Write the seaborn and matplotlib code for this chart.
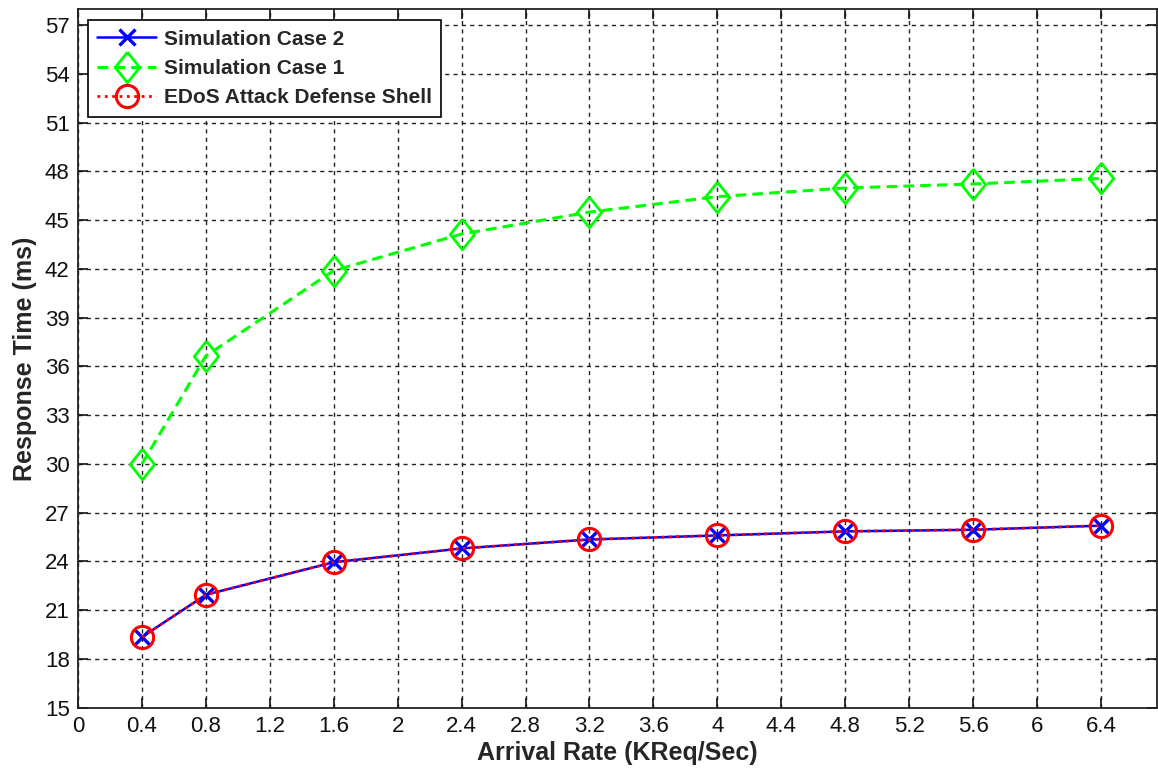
import numpy as np
import pandas as pd
import matplotlib
matplotlib.use("Agg")
import matplotlib.pyplot as plt
import seaborn as sns

# Arrival rate (KReq/Sec)
arrival_rate = [0.4, 0.8, 1.6, 2.4, 3.2, 4.0, 4.8, 5.6, 6.4]
# Response time (ms) per scheme
case2 = [19.35, 21.95, 23.95, 24.8, 25.35, 25.6, 25.85, 25.95, 26.2]
case1 = [30.0, 36.65, 41.9, 44.15, 45.5, 46.45, 46.98, 47.23, 47.57]
edos = [19.35, 21.95, 23.95, 24.8, 25.35, 25.6, 25.85, 25.95, 26.2]

series_names = ["Simulation Case 2", "Simulation Case 1", "EDoS Attack Defense Shell"]
x_ticks = [0, 0.4, 0.8, 1.2, 1.6, 2, 2.4, 2.8, 3.2, 3.6, 4, 4.4, 4.8, 5.2, 5.6, 6, 6.4]
y_ticks = list(range(15, 58, 3))

sns.set_theme(style="white")
plt.rcParams["font.family"] = ["Liberation Sans", "DejaVu Sans"]

fig = plt.figure(figsize=(11.58, 7.74), dpi=100)
ax = fig.add_axes([0.0674, 0.0857, 0.9316, 0.9027])

df = pd.DataFrame({
    "x": arrival_rate * 3,
    "y": case2 + case1 + edos,
    "series": sum([[n] * len(arrival_rate) for n in series_names], []),
})

diamond = [(0, 1), (0.8, 0), (0, -1), (-0.8, 0), (0, 1)]
styles = {
    series_names[0]: dict(color="#0000ff", linestyle="-", marker="x", markersize=12,
                          markeredgewidth=2.4, linewidth=1.8),
    series_names[1]: dict(color="#00ff00", linestyle=(0, (3.5, 2)), marker=diamond,
                          markersize=22, markeredgewidth=2.0, markerfacecolor="none",
                          linewidth=2.2),
    series_names[2]: dict(color="#ff0000", linestyle=":", marker="o", markersize=16,
                          markeredgewidth=2.2, markerfacecolor="none", linewidth=2.0),
}

for name in series_names:
    sub = df[df["series"] == name]
    st = styles[name]
    sns.lineplot(data=sub, x="x", y="y", ax=ax, label=name, **st)
    ax.lines[-1].set_markeredgecolor(st["color"])

ax.set_xlim(0, 6.75)
ax.set_ylim(15, 58)
ax.set_xticks(x_ticks)
ax.set_xticklabels([f"{t:g}" for t in x_ticks])
ax.set_yticks(y_ticks)

ax.grid(True, color="#222222", linestyle=(0, (3, 3)), linewidth=1.0)
ax.tick_params(direction="in", length=7, width=1.2, labelsize=16, colors="#111111",
               top=True, right=True, bottom=True, left=True)
ax.tick_params(axis="x", pad=6)
ax.tick_params(axis="y", pad=6)
for s in ax.spines.values():
    s.set_color("#222222")
    s.set_linewidth(1.3)

ax.set_xlabel("Arrival Rate (KReq/Sec)", fontsize=18, fontweight="bold", labelpad=3)
ax.set_ylabel("Response Time (ms)", fontsize=18, fontweight="bold", labelpad=6)

leg = ax.legend(loc="upper left", bbox_to_anchor=(0.0093, 0.984), borderaxespad=0,
                prop={"weight": "bold", "size": 15}, frameon=True, fancybox=False,
                edgecolor="black", framealpha=1, handlelength=2.8, borderpad=0.45,
                labelspacing=0.5, handletextpad=0.4)
leg.get_frame().set_linewidth(1.2)

fig.savefig("out.png", dpi=100)
